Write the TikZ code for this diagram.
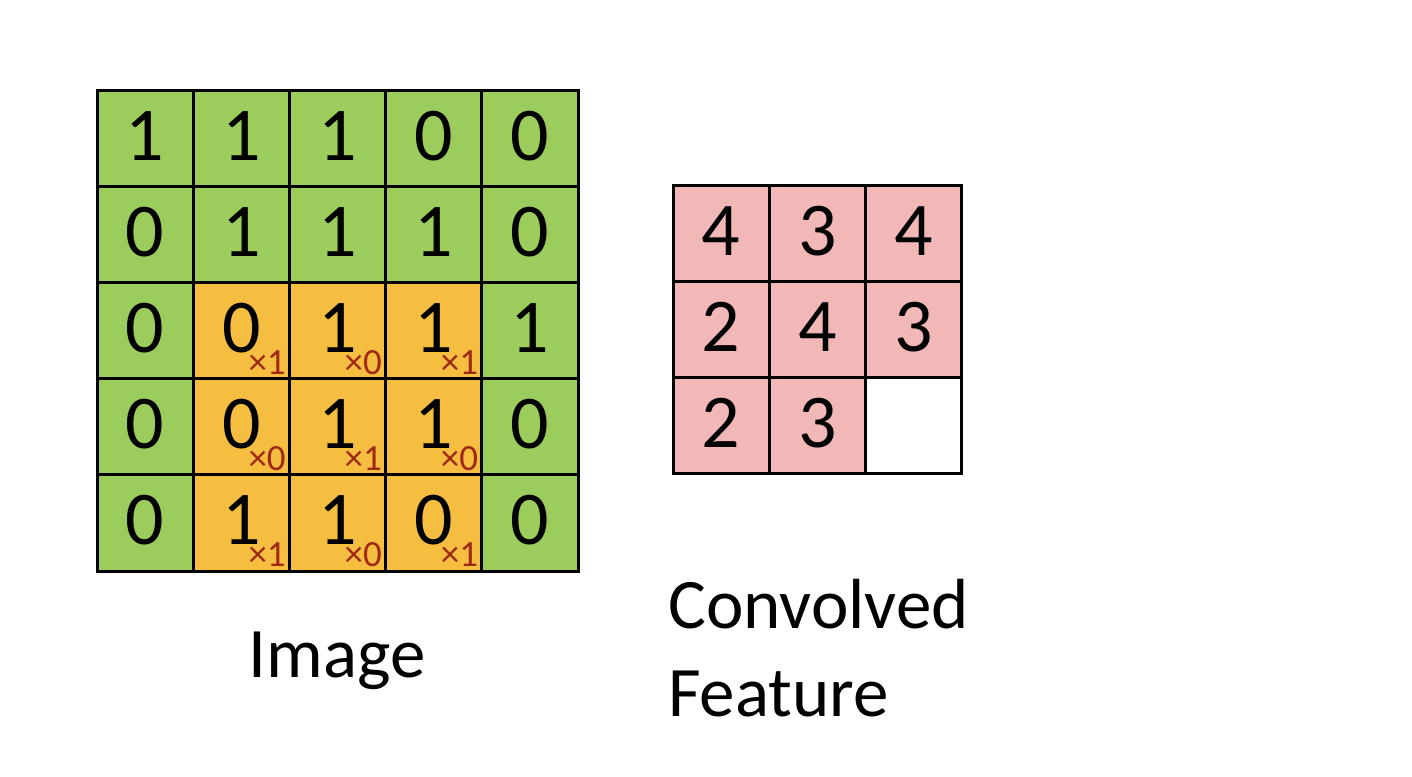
\documentclass[tikz,border=0pt]{standalone}
\usepackage{fontspec}
\setmainfont{Carlito}
\definecolor{cgreen}{RGB}{156,205,92}
\definecolor{corange}{RGB}{245,190,65}
\definecolor{cpink}{RGB}{242,183,183}
\definecolor{cred}{RGB}{160,40,20}
\begin{document}
\begin{tikzpicture}[x=1pt,y=-1pt,
  cell/.style={draw=black, line width=3pt, minimum size=96.2pt, inner sep=0pt,
    font=\fontsize{76}{80}\selectfont, text height=44pt, text depth=0pt},
  sub/.style={inner sep=0pt, text=cred, font=\fontsize{37}{40}\selectfont},
  lbl/.style={inner sep=0pt, font=\fontsize{71}{84}\selectfont}]
\useasboundingbox[fill=white] (0,0) rectangle (1412,776);
% Image grid
\foreach \r/\vals in {0/{1,1,1,0,0},1/{0,1,1,1,0},2/{0,0,1,1,1},3/{0,0,1,1,0},4/{0,1,1,0,0}}{
  \foreach \v [count=\c from 0] in \vals {
    \pgfmathtruncatemacro{\isor}{(\r>1)&&(\c>0)&&(\c<4)}
    \ifnum\isor=1 \def\fc{corange}\else\def\fc{cgreen}\fi
    \node[cell, fill=\fc] (a-\r-\c) at ({97+48.1+96.2*\c},{90+48.1+96.2*\r}) {\v};
  }
}
% kernel multipliers
\foreach \r/\c/\m in {2/1/1,2/2/0,2/3/1,3/1/0,3/2/1,3/3/0,4/1/1,4/2/0,4/3/1}{
  \node[sub, anchor=base east] (m-\r-\c) at ([xshift=-5pt,yshift=6pt]a-\r-\c.south east) {×\m};
}
% Convolved feature grid
\foreach \r/\vals in {0/{4,3,4},1/{2,4,3},2/{2,3}}{
  \foreach \v [count=\c from 0] in \vals {
    \node[cell, fill=cpink] (b-\r-\c) at ({673+48.1+96.2*\c},{185+48.1+96.2*\r}) {\v};
  }
}
\node[cell, fill=white] (b-2-2) at ({673+48.1+96.2*2},{185+48.1+96.2*2}) {};
% labels
\node[lbl, anchor=base] (image) at (337,677) {Image};
\node[lbl, anchor=base west] (conv) at (668,628) {Convolved};
\node[lbl, anchor=base west] (feat) at (668,716) {Feature};
\end{tikzpicture}
\end{document}
